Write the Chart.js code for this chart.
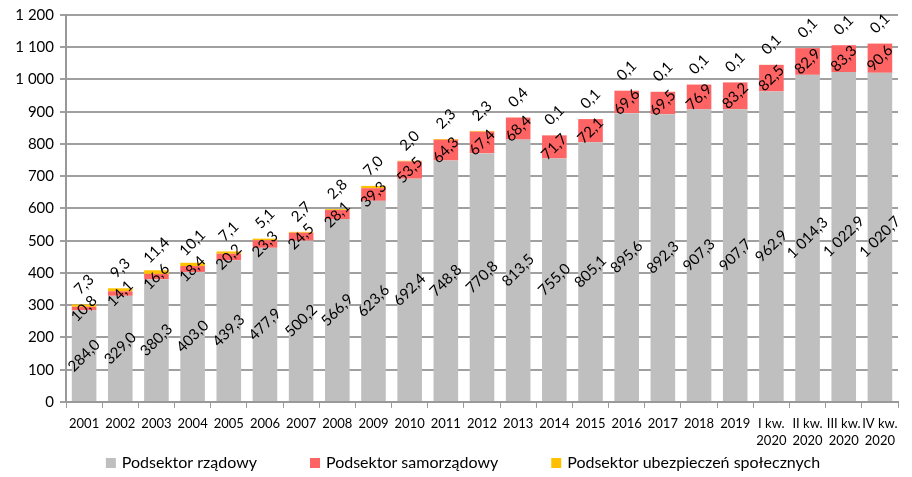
<!DOCTYPE html>
<html><head><meta charset="utf-8">
<script src="https://cdn.jsdelivr.net/npm/chart.js@4/dist/chart.umd.min.js"></script>
<style>html,body{margin:0;padding:0;background:#fff}#wrap{width:912px;height:477px}</style>
</head><body><div id="wrap"><canvas id="c"></canvas></div>
<script>
const categories = ["2001","2002","2003","2004","2005","2006","2007","2008","2009","2010","2011","2012","2013","2014","2015","2016","2017","2018","2019",["I kw.","2020"],["II kw.","2020"],["III kw.","2020"],["IV kw.","2020"]];
const rzadowy = [284.0,329.0,380.3,403.0,439.3,477.9,500.2,566.9,623.6,692.4,748.8,770.8,813.5,755.0,805.1,895.6,892.3,907.3,907.7,962.9,1014.3,1022.9,1020.7];
const samorzadowy = [10.8,14.1,16.6,18.4,20.2,23.3,24.5,28.1,39.3,53.5,64.3,67.4,68.4,71.7,72.1,69.6,69.5,76.9,83.2,82.5,82.9,83.3,90.6];
const ubezpieczen = [7.3,9.3,11.4,10.1,7.1,5.1,2.7,2.8,7.0,2.0,2.3,2.3,0.4,0.1,0.1,0.1,0.1,0.1,0.1,0.1,0.1,0.1,0.1];
const seriesNames = ["Podsektor rządowy","Podsektor samorządowy","Podsektor ubezpieczeń społecznych"];
const seriesColors = ['#BFBFBF','#FF6464','#FFC000'];
const yTicks = [0,100,200,300,400,500,600,700,800,900,1000,1100,1200];

function fmtInt(v){ return String(v).replace(/\B(?=(\d{3})+(?!\d))/g,' '); }
function fmtDec(v){ const p=v.toFixed(1).split('.'); return fmtInt(p[0])+','+p[1]; }

const FONT = "Lato, 'Open Sans', sans-serif";
const LEG_PAD = -2, LEG_W = 63, SQ = 10;

function legendSwatch(color){
  const w = LEG_W + 6;
  const cv = document.createElement('canvas');
  cv.width = w; cv.height = SQ;
  const g = cv.getContext('2d');
  g.fillStyle = color;
  g.fillRect(w - SQ - 1, 0, SQ, SQ);
  return cv;
}

const labelPlugin = {
  id:'labels',
  afterDatasetsDraw(chart){
    const ctx = chart.ctx;
    ctx.save();
    ctx.font = "15px " + FONT;
    ctx.fillStyle = '#000';
    ctx.textAlign = 'center';
    ctx.textBaseline = 'middle';
    chart.data.datasets.forEach((ds,di)=>{
      const meta = chart.getDatasetMeta(di);
      meta.data.forEach((el,i)=>{
        const v = ds.data[i];
        let x = el.x, y;
        if (di < 2) y = (el.y + el.base)/2;
        else y = el.y - 20;
        ctx.save();
        ctx.translate(x,y);
        ctx.rotate(-45*Math.PI/180);
        ctx.fillText(fmtDec(v),0,0);
        ctx.restore();
      });
    });
    ctx.restore();
  }
};

new Chart(document.getElementById('c'),{
  type:'bar',
  data:{
    labels:categories,
    datasets:[
      {label:seriesNames[0],data:rzadowy,backgroundColor:seriesColors[0]},
      {label:seriesNames[1],data:samorzadowy,backgroundColor:seriesColors[1]},
      {label:seriesNames[2],data:ubezpieczen,backgroundColor:seriesColors[2]}
    ]
  },
  options:{
    responsive:true,maintainAspectRatio:false,animation:false,
    layout:{padding:{top:5,right:14,left:-27,bottom:-4}},
    datasets:{bar:{categoryPercentage:1,barPercentage:0.68}},
    plugins:{
      legend:{position:'bottom',
        labels:{font:{family:FONT,size:16},color:'#000',padding:LEG_PAD,
          usePointStyle:true,pointStyleWidth:LEG_W,boxHeight:SQ,
          generateLabels(chart){
            const items = Chart.defaults.plugins.legend.labels.generateLabels(chart);
            items.forEach(it=>{ it.pointStyle = legendSwatch(seriesColors[it.datasetIndex]); });
            return items;
          }}},
      tooltip:{enabled:false}
    },
    scales:{
      x:{stacked:true,
        grid:{display:true,drawOnChartArea:false,drawTicks:true,tickLength:6,color:'#999',lineWidth:1,offset:true},
        border:{color:'#999',width:2},
        ticks:{font:{family:FONT,size:13,lineHeight:1.35},color:'#000',maxRotation:0,autoSkip:false,padding:7}},
      y:{stacked:true,min:0,max:1200,
        afterFit(s){s.width=93;},
        afterBuildTicks(s){s.ticks=yTicks.map(v=>({value:v}));},
        grid:{color:'#A0A0A0',lineWidth:2,tickLength:6,drawTicks:true},
        border:{color:'#999',width:2},
        ticks:{font:{family:FONT,size:15},color:'#000',padding:6,callback:v=>fmtInt(v)}}
    }
  },
  plugins:[labelPlugin]
});
</script></body></html>
